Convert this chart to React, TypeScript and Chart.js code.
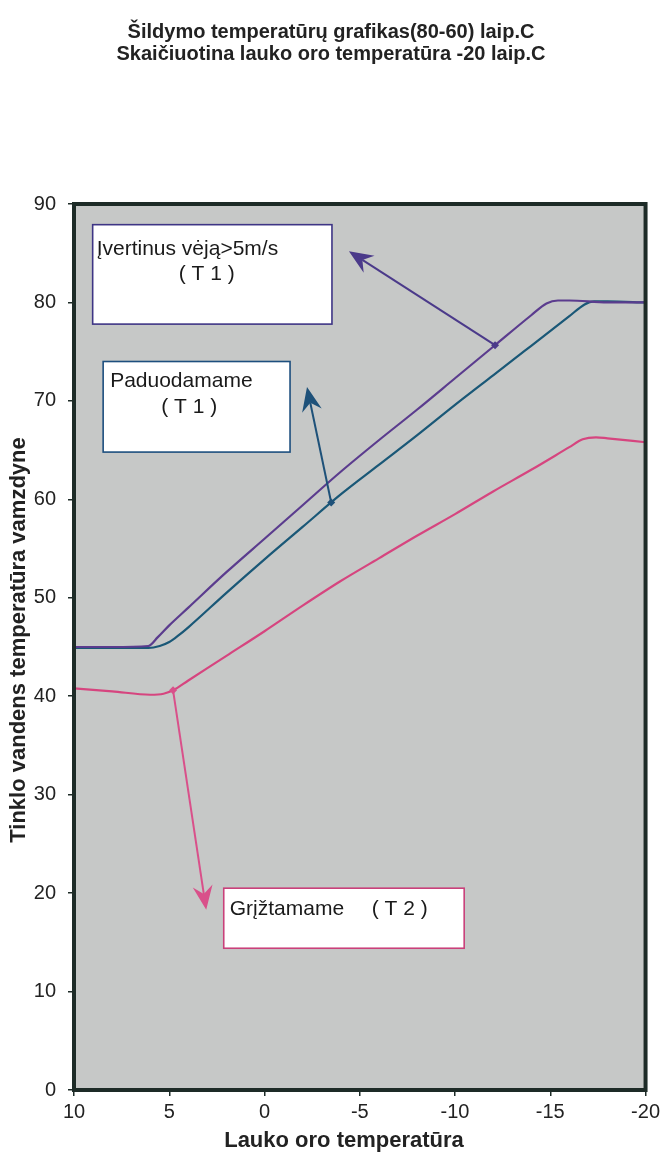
import React, { useEffect, useRef } from 'react';
import { Chart, registerables } from 'chart.js';

Chart.register(...registerables);

// ---- text ----
const titleLines = [
  'Šildymo temperatūrų grafikas(80-60) laip.C',
  'Skaičiuotina lauko oro temperatūra -20 laip.C',
];
const xAxisTitle = 'Lauko oro temperatūra';
const yAxisTitle = 'Tinklo vandens temperatūra vamzdyne';

// ---- ticks ----
const xTickValues = [10, 5, 0, -5, -10, -15, -20];
const yTickValues = [0, 10, 20, 30, 40, 50, 60, 70, 80, 90];

// ---- series: supply with wind > 5 m/s (T1) ----
const windSupplyX = [10, 8, 6.1, 5.6, 5, 4, 2, 0, -2, -4, -6, -8, -10, -12, -14, -14.8, -15.4, -16, -18, -20];
const windSupplyY = [45, 45, 45.1, 46.0, 47.2, 49.0, 52.6, 56.0, 59.4, 62.8, 66.0, 69.1, 72.3, 75.5, 78.7, 79.9, 80.2, 80.2, 80.0, 80.0];

// ---- series: supply (T1) ----
const supplyX = [10, 8, 6.1, 5.5, 5, 4.5, 4, 2, 0, -2, -4, -6, -8, -10, -12, -14, -16, -16.8, -17.3, -18, -20];
const supplyY = [44.9, 44.9, 44.9, 45.1, 45.5, 46.2, 47.0, 50.5, 53.9, 57.2, 60.5, 63.5, 66.5, 69.6, 72.6, 75.6, 78.6, 79.8, 80.1, 80.1, 80.0];

// ---- series: return (T2) ----
const returnX = [10, 8, 6, 5.3, 4.8, 4, 2, 0, -2, -4, -6, -8, -10, -12, -14, -16, -16.7, -17.4, -18, -20];
const returnY = [40.8, 40.5, 40.15, 40.25, 40.6, 41.6, 44.1, 46.6, 49.2, 51.7, 54.0, 56.3, 58.5, 60.8, 63.0, 65.3, 66.1, 66.3, 66.2, 65.8];

const seriesLabels = ['Įvertinus vėją>5m/s (T 1)', 'Paduodamame (T 1)', 'Grįžtamame (T 2)'];

// ---- annotation callouts (data units) ----
const calloutTexts = [
  ['Įvertinus vėją>5m/s', '( T 1 )'],
  ['Paduodamame', '( T 1 )'],
  ['Grįžtamame', '( T 2 )'],
];
const calloutBoxX = [[9.02, -3.54], [8.47, -1.34], [2.14, -10.48]];
const calloutBoxY = [[87.9, 77.8], [74.0, 64.8], [20.5, 14.4]];
const arrowFromX = [-12.1, -3.5, 4.8];
const arrowTipX = [-4.43, -2.23, 3.06];
const arrowTipY = [85.2, 71.4, 18.3];

const FONT = '"Liberation Sans", Arial, Helvetica, sans-serif';
const LINE_COLORS = ['#5b3c8e', '#1a5877', '#d6457f'];
const BOX_COLORS = ['#3e3585', '#1d4f7e', '#c9407a'];
const ARROW_COLORS = ['#4b3a8a', '#1e5179', '#d9508a'];
const FRAME = '#1d2b27';

function interp(xs: number[], ys: number[], x: number): number {
  for (let i = 0; i < xs.length - 1; i++) {
    const a = xs[i], b = xs[i + 1];
    if ((x <= a && x >= b) || (x >= a && x <= b)) {
      const t = (x - a) / (b - a);
      return ys[i] + t * (ys[i + 1] - ys[i]);
    }
  }
  return ys[ys.length - 1];
}

function drawArrow(ctx: CanvasRenderingContext2D, x1: number, y1: number, x2: number, y2: number, color: string) {
  const ang = Math.atan2(y2 - y1, x2 - x1);
  const ux = Math.cos(ang), uy = Math.sin(ang);
  const px = -uy, py = ux;
  const len = 24, hw = 10, notch = 8;
  ctx.save();
  ctx.strokeStyle = color;
  ctx.fillStyle = color;
  ctx.lineWidth = 2;
  ctx.beginPath();
  ctx.moveTo(x1, y1);
  ctx.lineTo(x2 - ux * (len - notch), y2 - uy * (len - notch));
  ctx.stroke();
  ctx.beginPath();
  ctx.moveTo(x2, y2);
  ctx.lineTo(x2 - ux * len + px * hw, y2 - uy * len + py * hw);
  ctx.lineTo(x2 - ux * (len - notch), y2 - uy * (len - notch));
  ctx.lineTo(x2 - ux * len - px * hw, y2 - uy * len - py * hw);
  ctx.closePath();
  ctx.fill();
  // start marker (small diamond)
  ctx.beginPath();
  ctx.moveTo(x1, y1 - 4);
  ctx.lineTo(x1 + 4, y1);
  ctx.lineTo(x1, y1 + 4);
  ctx.lineTo(x1 - 4, y1);
  ctx.closePath();
  ctx.fill();
  ctx.restore();
}

const decorPlugin = {
  id: 'decor',
  beforeDraw(chart: any) {
    const { ctx, chartArea: a } = chart;
    ctx.save();
    ctx.fillStyle = '#ffffff';
    ctx.fillRect(0, 0, chart.width, chart.height);
    ctx.fillStyle = '#c6c8c7';
    ctx.fillRect(a.left, a.top, a.right - a.left, a.bottom - a.top);
    ctx.restore();
  },
  afterDraw(chart: any) {
    const { ctx, chartArea: a } = chart;
    const xs = chart.scales.x, ys = chart.scales.y;
    ctx.save();
    // frame
    ctx.strokeStyle = FRAME;
    ctx.lineWidth = 4;
    ctx.strokeRect(a.left, a.top, a.right - a.left, a.bottom - a.top);

    // callout boxes
    const series = [
      [windSupplyX, windSupplyY],
      [supplyX, supplyY],
      [returnX, returnY],
    ];
    for (let i = 0; i < 3; i++) {
      const l = xs.getPixelForValue(calloutBoxX[i][0]);
      const r = xs.getPixelForValue(calloutBoxX[i][1]);
      const t = ys.getPixelForValue(calloutBoxY[i][0]);
      const b = ys.getPixelForValue(calloutBoxY[i][1]);
      ctx.fillStyle = '#ffffff';
      ctx.fillRect(l, t, r - l, b - t);
      ctx.strokeStyle = BOX_COLORS[i];
      ctx.lineWidth = 1.6;
      ctx.strokeRect(l, t, r - l, b - t);
      ctx.fillStyle = '#1a1a1a';
      ctx.font = `21px ${FONT}`;
      ctx.textBaseline = 'alphabetic';
      if (i === 0) {
        ctx.textAlign = 'left';
        ctx.fillText(calloutTexts[i][0], l + 4, t + 30);
        ctx.textAlign = 'center';
        ctx.fillText(calloutTexts[i][1], l + 114, t + 55);
      } else if (i === 1) {
        ctx.textAlign = 'left';
        ctx.fillText(calloutTexts[i][0], l + 7, t + 25);
        ctx.textAlign = 'center';
        ctx.fillText(calloutTexts[i][1], l + 86, t + 51);
      } else {
        ctx.textAlign = 'left';
        ctx.fillText(calloutTexts[i][0], l + 6, t + 27);
        ctx.fillText(calloutTexts[i][1], l + 148, t + 27);
      }
      // arrow
      const fx = arrowFromX[i];
      const fy = interp(series[i][0], series[i][1], fx);
      drawArrow(
        ctx,
        xs.getPixelForValue(fx),
        ys.getPixelForValue(fy),
        xs.getPixelForValue(arrowTipX[i]),
        ys.getPixelForValue(arrowTipY[i]),
        ARROW_COLORS[i]
      );
    }

    // titles
    ctx.fillStyle = '#222222';
    ctx.textAlign = 'center';
    ctx.textBaseline = 'middle';
    ctx.font = `bold 20px ${FONT}`;
    ctx.fillText(titleLines[0], 331, 32);
    ctx.fillText(titleLines[1], 331, 54);

    ctx.font = `bold 22px ${FONT}`;
    ctx.fillText(xAxisTitle, 344, 1141);

    ctx.save();
    ctx.translate(19, 640);
    ctx.rotate(-Math.PI / 2);
    ctx.fillText(yAxisTitle, 0, 0);
    ctx.restore();

    ctx.restore();
  },
};

export default function App() {
  const ref = useRef<HTMLCanvasElement>(null);
  useEffect(() => {
    document.body.style.margin = '0';
    const canvas = ref.current!;
    const mk = (i: number, xsArr: number[], ysArr: number[]) => ({
      label: seriesLabels[i],
      data: xsArr.map((x, k) => ({ x, y: ysArr[k] })),
      borderColor: LINE_COLORS[i],
      backgroundColor: LINE_COLORS[i],
      borderWidth: 2.2,
      pointRadius: 0,
      tension: 0,
      cubicInterpolationMode: 'monotone' as const,
      fill: false,
    });
    const tickFont = { family: FONT, size: 20 };
    const chart = new Chart(canvas, {
      type: 'line',
      data: {
        datasets: [
          mk(0, windSupplyX, windSupplyY),
          mk(2, returnX, returnY),
          mk(1, supplyX, supplyY),
        ],
      },
      options: {
        animation: false,
        responsive: false,
        devicePixelRatio: 1,
        layout: { padding: { top: 204, right: 14, left: 0, bottom: 0 } },
        plugins: { legend: { display: false }, tooltip: { enabled: false }, title: { display: false } },
        scales: {
          x: {
            type: 'linear',
            reverse: true,
            min: -20,
            max: 10,
            afterBuildTicks: (s: any) => {
              s.ticks = xTickValues.map((v) => ({ value: v }));
            },
            afterFit: (s: any) => {
              s.height = 71;
            },
            ticks: {
              font: tickFont,
              color: '#222222',
              padding: 4,
              maxRotation: 0,
              autoSkip: false,
              callback: (v: any) => String(v),
            },
            grid: { drawOnChartArea: false, drawTicks: true, tickLength: 6, color: FRAME, lineWidth: 1.5 },
            border: { display: true, color: FRAME, width: 4 },
          },
          y: {
            type: 'linear',
            min: 0,
            max: 90,
            afterBuildTicks: (s: any) => {
              s.ticks = yTickValues.map((v) => ({ value: v }));
            },
            afterFit: (s: any) => {
              s.width = 74;
            },
            ticks: {
              font: tickFont,
              color: '#222222',
              padding: 12,
              autoSkip: false,
              callback: (v: any) => String(v),
            },
            grid: { drawOnChartArea: false, drawTicks: true, tickLength: 6, color: FRAME, lineWidth: 1.5 },
            border: { display: true, color: FRAME, width: 4 },
          },
        },
      },
      plugins: [decorPlugin],
    });
    return () => chart.destroy();
  }, []);
  return (
    <div style={{ width: 664, height: 1161, background: '#ffffff' }}>
      <canvas ref={ref} width={664} height={1161} style={{ display: 'block', width: 664, height: 1161 }} />
    </div>
  );
}
